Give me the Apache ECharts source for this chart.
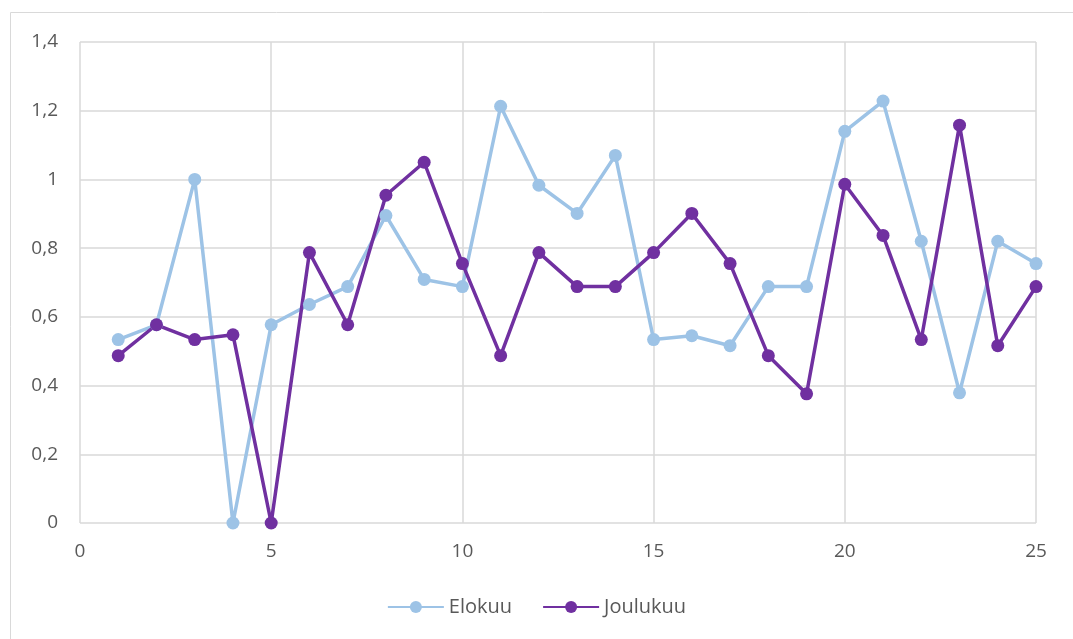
<!DOCTYPE html>
<html>
<head>
<meta charset="utf-8">
<style>
  html, body { margin: 0; padding: 0; background: #fff; }
  #chart { width: 1073px; height: 639px; }
</style>
<script src="https://cdn.jsdelivr.net/npm/echarts@6/dist/echarts.min.js"></script>
</head>
<body>
<div id="chart"></div>
<script>
// Day numbers along the x axis
const days = [1,2,3,4,5,6,7,8,9,10,11,12,13,14,15,16,17,18,19,20,21,22,23,24,25];

// August values
const elokuu = [0.534,0.577,1.0,0.0,0.577,0.636,0.688,0.895,0.709,0.688,1.213,0.983,0.901,1.07,0.534,0.545,0.516,0.688,0.688,1.14,1.228,0.82,0.379,0.82,0.755];

// December values
const joulukuu = [0.487,0.577,0.534,0.548,0.0,0.787,0.577,0.954,1.05,0.755,0.487,0.787,0.688,0.688,0.787,0.901,0.755,0.487,0.376,0.986,0.837,0.534,1.158,0.516,0.688];

const seriesNames = ['Elokuu', 'Joulukuu'];
const seriesColors = ['#9DC3E6', '#7030A0'];

const pairs = (vals) => days.map((d, i) => [d, vals[i]]);
const fmt = (v) => String(Math.round(v * 10) / 10).replace('.', ',');

const chart = echarts.init(document.getElementById('chart'));
const font = 'Open Sans, Noto Sans, sans-serif';

chart.setOption({
  animation: false,
  graphic: [{
    type: 'rect',
    shape: { x: 10.5, y: 12.5, width: 1080, height: 660 },
    style: { fill: 'none', stroke: '#d9d9d9', lineWidth: 1 },
    silent: true
  }],
  grid: { left: 80, right: 37, top: 42, bottom: 116, containLabel: false },
  xAxis: {
    type: 'value', min: 0, max: 25, interval: 5,
    axisLine: { show: false },
    axisTick: { show: false },
    splitLine: { show: true, lineStyle: { color: '#d9d9d9', width: 1.5 } },
    axisLabel: { color: '#595959', fontSize: 19, fontFamily: font, margin: 19 }
  },
  yAxis: {
    type: 'value', min: 0, max: 1.4, interval: 0.2,
    axisLine: { show: false },
    axisTick: { show: false },
    splitLine: { show: true, lineStyle: { color: '#d9d9d9', width: 1.5 } },
    axisLabel: { color: '#595959', fontSize: 19, fontFamily: font, margin: 22, formatter: fmt }
  },
  legend: {
    bottom: 17, left: 'center', itemGap: 30, itemWidth: 56, itemHeight: 15,
    textStyle: { color: '#595959', fontSize: 20, fontFamily: font },
    data: seriesNames
  },
  series: [elokuu, joulukuu].map((vals, i) => ({
    name: seriesNames[i],
    type: 'line',
    data: pairs(vals),
    color: seriesColors[i],
    symbol: 'circle',
    symbolSize: 13,
    lineStyle: { width: 3.5 },
    itemStyle: { color: seriesColors[i] }
  }))
});
</script>
</body>
</html>
